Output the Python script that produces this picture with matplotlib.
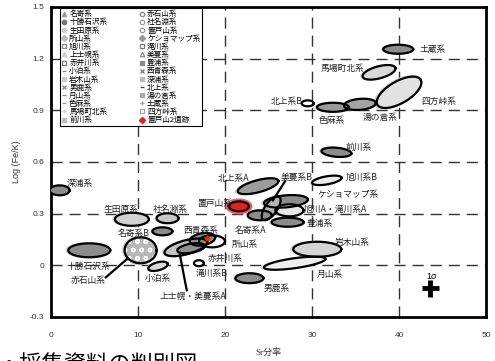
import numpy as np
import matplotlib
matplotlib.use("Agg")
import matplotlib.pyplot as plt
from matplotlib.lines import Line2D

plt.rcParams['font.family'] = ['Noto Sans CJK JP', 'DejaVu Sans']

# ---- source-group ellipses: name, Sr ratio, log(Fe/K), semi-axes (Sr units), tilt, fill
groups = ['土蔵系', '馬場町北系', '四方峠系', '湯の倉系', '色麻系', '北上系B', '前川系',
          '旭川系B', 'ケショマップ系', '旭川A・滝川系A', '豊浦系', '美蔓系B', '名寄系A',
          '北上系A', '置戸山系', '岩木山系', '月山系', '男鹿系', '深浦系', '生田原系',
          '社名淵系', '名寄系B', '赤石山系', '十勝石沢系', '小泊系', '上士幌系',
          '美蔓系A', '西青森系', '所山系', '滝川系B']
sr = [39.9, 37.7, 40.0, 35.5, 32.4, 29.5, 32.8,
      31.7, 27.0, 27.4, 27.2, 25.3, 24.0,
      23.8, 21.6, 30.6, 28.0, 22.8, 1.0, 9.3,
      13.4, 12.8, 10.3, 4.4, 12.3, 15.5,
      16.1, 17.4, 18.5, 17.0]
fek = [1.254, 1.12, 1.004, 0.934, 0.917, 0.94, 0.656,
       0.493, 0.371, 0.319, 0.25, 0.331, 0.29,
       0.459, 0.342, 0.093, 0.012, -0.075, 0.435, 0.267,
       0.273, 0.197, 0.087, 0.087, -0.006, 0.104,
       0.099, 0.151, 0.139, 0.012]
semi_a = [1.72, 1.95, 2.87, 1.84, 1.84, 0.69, 1.72,
          1.72, 2.53, 1.61, 1.84, 1.61, 1.38,
          2.41, 1.15, 2.76, 3.56, 1.61, 1.15, 1.95,
          1.26, 1.15, 1.84, 2.41, 1.15, 2.53,
          1.61, 1.49, 1.49, 0.57]
semi_b = [0.52, 0.69, 1.26, 0.63, 0.52, 0.34, 0.52,
          0.46, 0.69, 0.69, 0.52, 0.69, 0.57,
          0.69, 0.57, 0.86, 0.57, 0.57, 0.57, 0.75,
          0.57, 0.46, 1.49, 0.8, 0.46, 0.8,
          0.52, 0.69, 0.69, 0.34]
tilt = [0, 15, 30, 5, 0, 0, -5,
        10, 5, 0, 0, 55, 0,
        15, 0, 0, 8, 0, 0, 0,
        0, 0, 0, 0, 15, 15,
        10, 10, 0, 0]
fills = ['#8c8c8c', '#d9d9d9', '#e2e2e2', '#a4a4a4', '#9a9a9a', '#ffffff', '#8c8c8c',
         '#ececec', '#8c8c8c', '#e6e6e6', '#8c8c8c', '#b4b4b4', '#8c8c8c',
         '#9c9c9c', '#e8201c', '#d4d4d4', '#eeeeee', '#8c8c8c', '#8c8c8c', '#d2d2d2',
         '#c8c8c8', '#8c8c8c', '#b8b8b8', '#8c8c8c', '#dadada', '#c4c4c4',
         '#909090', '#8c8c8c', 'none', '#ffffff']

# ---- group labels (text, Sr, log(Fe/K), alignment)
lab_txt = ['土蔵系', '馬場町北系', '四方峠系', '湯の倉系', '色麻系', '北上系B', '前川系',
           '旭川系B', '美蔓系B', 'ケショマップ系', '旭川A・滝川系A', '豊浦系', '岩木山系',
           '月山系', '男鹿系', '北上系A', '置戸山系', '名寄系A', '所山系', '西青森系',
           '赤井川系', '滝川系B', '上士幌・美蔓系A', '小泊系', '赤石山系', '十勝石沢系',
           '名寄系B', '生田原系', '社名淵系', '深浦系']
lab_x = [42.4, 36.0, 42.5, 37.8, 32.3, 28.9, 33.8,
         33.9, 28.2, 30.6, 29.1, 29.4, 32.6,
         30.5, 24.4, 21.0, 20.8, 22.9, 20.8, 17.2,
         18.0, 16.6, 16.3, 12.3, 4.25, 4.25,
         9.5, 8.0, 13.7, 1.84]
lab_y = [1.254, 1.143, 0.952, 0.859, 0.842, 0.952, 0.685,
         0.511, 0.511, 0.412, 0.325, 0.244, 0.133,
         -0.052, -0.133, 0.505, 0.36, 0.203, 0.122, 0.203,
         0.041, -0.046, -0.18, -0.075, -0.087, -0.006,
         0.186, 0.325, 0.325, 0.476]
lab_ha = ['left', 'right', 'left', 'center', 'center', 'right', 'left',
          'left', 'center', 'left', 'left', 'left', 'left',
          'left', 'left', 'center', 'right', 'center', 'left', 'center',
          'left', 'left', 'center', 'center', 'center', 'center',
          'center', 'center', 'center', 'left']

# leader lines (from label to ellipse)
leaders = [((6.3, -0.07), (8.85, 0.041)),
           ((15.6, -0.145), (14.8, 0.064)),
           ((26.9, 0.488), (25.5, 0.377))]

# 1 sigma error
sig_x, sig_y = 43.6, -0.133
sig_dx, sig_dy = 1.0, 0.05

# legend entries
leg_names = ['名寄系', '十勝石沢系', '生田原系', '所山系', '旭川系', '上士幌系', '赤井川系',
             '小泊系', '岩木山系', '男鹿系', '月山系', '色麻系', '馬場町北系', '前川系',
             '赤石山系', '社名淵系', '置戸山系', 'ケショマップ系', '滝川系', '美蔓系', '豊浦系',
             '西青森系', '深浦系', '北上系', '湯の倉系', '土蔵系', '四方峠系', '置戸山2遺跡']
leg_mk = ['^', 'o', 'o', 'D', 's', '^', 's', '_', 's', 'x', '_', '_', '+', 's',
          'o', 'o', 'o', 'D', 's', '^', 's', 'x', 's', '_', 's', '+', 's', 'D']
leg_col = ['#999999', '#777777', '#cccccc', '#bbbbbb', '#888888', '#cccccc', '#777777',
           '#888888', '#cccccc', '#888888', '#888888', '#999999', '#cccccc', '#bbbbbb',
           '#888888', '#999999', '#999999', '#999999', '#777777', '#888888', '#888888',
           '#777777', '#bbbbbb', '#444444', '#aaaaaa', '#999999', '#aaaaaa', '#e8201c']
leg_open = [False, False, False, False, True, False, True, False, False, False, False, False, False, False,
            True, True, True, False, True, True, False, False, False, False, False, False, True, False]

fig = plt.figure(figsize=(4.95, 3.61), dpi=100)
ax = fig.add_axes([0.103, 0.122, 0.879, 0.859])
ax.set_xlim(0, 50)
ax.set_ylim(-0.3, 1.5)

# aspect factor so that tilted ellipses look right on screen
W = 0.879 * 4.95
H = 0.859 * 3.61
k = (H / 1.8) / (W / 50)


def oval(cx, cy, a, b, ang, n=120):
    t = np.linspace(0, 2 * np.pi, n)
    u = a * np.cos(t)
    v = b * np.sin(t)
    r = np.radians(ang)
    xs = cx + u * np.cos(r) - v * np.sin(r)
    ys = cy + (u * np.sin(r) + v * np.cos(r)) / k
    return xs, ys


# grid
for gx in [10, 20, 30, 40]:
    ax.axvline(gx, color='#333333', lw=1.0, dashes=(8, 5), zorder=1)
for gy in [0, 0.3, 0.6, 0.9, 1.2]:
    ax.axhline(gy, color='#333333', lw=1.0, dashes=(8, 5), zorder=1)

# scatter halo, then the ellipse itself
for i in range(len(groups)):
    fc = fills[i]
    if fc == '#e8201c':
        hx, hy = oval(sr[i], fek[i], semi_a[i] * 1.35, semi_b[i] * 1.6, tilt[i])
        ax.fill(hx, hy, color='#f06060', lw=0, zorder=2)
    elif fc not in ('none', '#ffffff'):
        hx, hy = oval(sr[i] - 0.15, fek[i], semi_a[i] * 1.08, semi_b[i] * 1.15, tilt[i])
        ax.fill(hx, hy, color='#d6d6d6', lw=0, zorder=2)
    xs, ys = oval(sr[i], fek[i], semi_a[i], semi_b[i], tilt[i])
    if fc != 'none':
        ax.fill(xs, ys, color=fc, lw=0, zorder=3)
    if groups[i] == '赤石山系':
        ax.fill(xs, ys, facecolor='none', edgecolor='white', hatch='oo', lw=0, zorder=3)
    ax.plot(xs, ys, color='black', lw=1.6, zorder=4)

# obsidian sample inside the 西青森系 group
ax.plot([17.9], [0.157], marker='D', ms=2.5, color='#e8201c', zorder=5)

for (x0, y0), (x1, y1) in leaders:
    ax.plot([x0, x1], [y0, y1], color='black', lw=1.6, zorder=5)

for t, x, y, ha in zip(lab_txt, lab_x, lab_y, lab_ha):
    ax.text(x, y, t, ha=ha, va='center', fontsize=6.3, color='#222222', zorder=6)

ax.errorbar([sig_x], [sig_y], xerr=[sig_dx], yerr=[sig_dy], fmt='none',
            ecolor='black', elinewidth=3.5, capsize=0, zorder=6)
ax.text(sig_x + 0.1, sig_y + 0.07, '1σ', ha='center', va='center', fontsize=6.5,
        family=['Liberation Sans', 'DejaVu Sans'])

# axes styling
for s in ax.spines.values():
    s.set_linewidth(2.0)
ax.set_xticks([0, 10, 20, 30, 40, 50])
ax.set_yticks([-0.3, 0, 0.3, 0.6, 0.9, 1.2, 1.5])
ax.set_yticklabels(['-0.3', '0', '0.3', '0.6', '0.9', '1.2', '1.5'])
ax.tick_params(length=0, labelsize=6, labelcolor='#333333')
ax.tick_params(axis='x', pad=11)
ax.tick_params(axis='y', pad=5)
for lb in ax.get_xticklabels() + ax.get_yticklabels():
    lb.set_family(['Liberation Sans', 'DejaVu Sans'])
ax.set_xlabel('Sr分率', fontsize=6.5, labelpad=6, color='#333333',
              family=['Liberation Serif', 'Noto Sans CJK JP'])
ax.set_ylabel('Log (Fe/K)', fontsize=6.5, labelpad=6, color='#333333',
              family=['Liberation Sans', 'DejaVu Sans'])

handles = []
for nm, mk, c, op in zip(leg_names, leg_mk, leg_col, leg_open):
    handles.append(Line2D([], [], ls='none', marker=mk, ms=3.2, color=c,
                          mfc='none' if op else c, mew=0.9, label=nm))
leg = ax.legend(handles=handles, ncol=2, loc='upper left', bbox_to_anchor=(0.02, 0.995),
                fontsize=5.5, frameon=True, fancybox=False, framealpha=1,
                handlelength=0.7, handletextpad=0.3, labelspacing=0.02,
                columnspacing=4.2, borderpad=0.25, borderaxespad=0)
leg.get_frame().set_edgecolor('black')
leg.get_frame().set_linewidth(0.8)
leg.set_zorder(10)

# figure caption running off the bottom edge
fig.text(-0.005, 0.022, '・採集資料の判別図', fontsize=16, va='top', ha='left',
         color='black')

fig.savefig('out.png', dpi=100)
